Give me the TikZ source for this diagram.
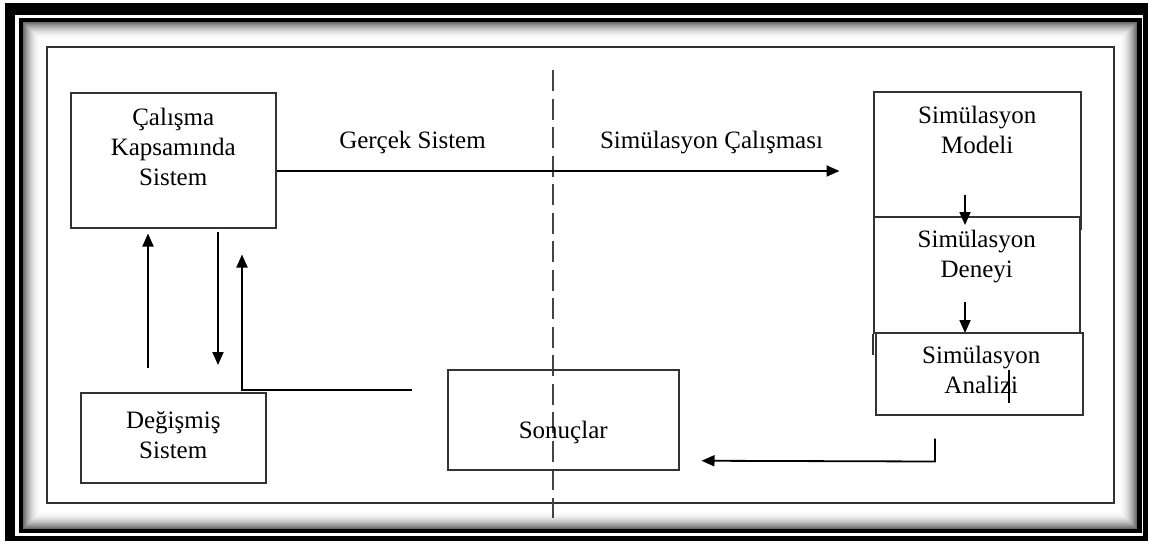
\documentclass[tikz,border=0pt]{standalone}
\usepackage{fontspec}
\setmainfont{Liberation Serif}
\usetikzlibrary{arrows.meta,calc}
\definecolor{boxgray}{HTML}{333333}
\definecolor{dashgray}{HTML}{444444}
\begin{document}
\begin{tikzpicture}[x=1pt,y=-1pt,
  box/.style={draw=boxgray, line width=1.5pt, inner sep=0pt, anchor=north west},
  boxline/.style={draw=boxgray, line width=1.5pt},
  lbl/.style={inner sep=0pt, align=center, anchor=north, font=\fontsize{25}{30}\selectfont},
  arr/.style={draw=black, line width=1.8pt, -{Triangle[length=13pt,width=11pt]}},
  ln/.style={draw=black, line width=1.8pt}]
% canvas and frame
\fill[white] (0,0) rectangle (1152,544);
\useasboundingbox (0,0) rectangle (1152,544);
\fill[black] (5,3) rectangle (1148,541);
\fill[white] (15,15) rectangle (1143,536);
\fill[black] (19,18) rectangle (1142,533);
\foreach \i in {0,...,17} {
  \pgfmathsetmacro\c{58*(1-\i/18)^2}
  \fill[black!\c!white] ({23+\i},{22+\i}) rectangle ({1137-\i},{529-\i});
}
\fill[white] (41,40) rectangle (1119,511);
\draw[boxgray, line width=1.5pt] (47,47) rectangle (1114,503);
% divider
\draw[line width=1.8pt, draw=dashgray, dash pattern=on 21pt off 7.5pt] (553,70) -- (553,518);
% boxes
\node[box, minimum width=205pt, minimum height=135pt] (cks) at (70,92) {};
\node[box, minimum width=185pt, minimum height=90pt] (deg) at (80,392) {};
\node[box, minimum width=231pt, minimum height=100pt] (son) at (447,369) {};
\node[box, minimum width=207pt, minimum height=125pt] (mod) at (873,91) {};
\node[box, minimum width=206pt, minimum height=116pt] (den) at (873,216) {};
\node[box, minimum width=207pt, minimum height=82pt] (ana) at (875,332) {};
\draw[boxline] (mod.south east) -- ++(0,12);
\draw[boxline] (den.south west) -- ++(0,21);
% texts
\node[lbl] (tcks) at ($(cks.north)+(0,12)$) {\strut Çalışma\\\strut Kapsamında\\\strut Sistem};
\node[lbl] (tdeg) at ($(deg.north)+(0,15)$) {\strut Değişmiş\\\strut Sistem};
\node[lbl] (tson) at ($(son.north)+(0,48)$) {\strut Sonuçlar};
\node[lbl] (tmod) at ($(mod.north)+(0,11)$) {\strut Simülasyon\\\strut Modeli};
\node[lbl] (tden) at ($(den.north)+(0,10)$) {\strut Simülasyon\\\strut Deneyi};
\node[lbl] (tana) at ($(ana.north)+(2,10)$) {\strut Simülasyon\\\strut Analizi};
\node[lbl] (lg) at (412.5,127) {\strut Gerçek Sistem};
\node[lbl] (ls) at (711.5,127) {\strut Simülasyon Çalışması};
% text cursor mark
\draw[line width=1.2pt] (1009,370) -- (1009,403);
% connectors
\draw[arr] ($(cks.north east)+(0,79)$) -- ++(563,0);
\draw[arr] ($(deg.north west)+(68,-24)$) -- ($(cks.south west)+(78,5)$);
\draw[arr] ($(cks.south west)+(148,3)$) -- ($(deg.north west)+(138,-27)$);
\coordinate (c3) at ($(deg.north west)+(162,-2)$);
\draw[arr] ($(son.north west)+(-35,21)$) -- (c3) -- ($(cks.south west)+(172,26)$);
\coordinate (c4) at ($(ana.south west)+(60,46)$);
\draw[arr] ($(ana.south west)+(60,23)$) -- (c4) -- ($(son.east)+(22,41)$);
\draw[arr] ($(mod.south west)+(92,-23)$) -- ($(den.north west)+(92,9)$);
\draw[arr] ($(den.south west)+(92,-32)$) -- ($(ana.north west)+(90,1)$);
\end{tikzpicture}
\end{document}
